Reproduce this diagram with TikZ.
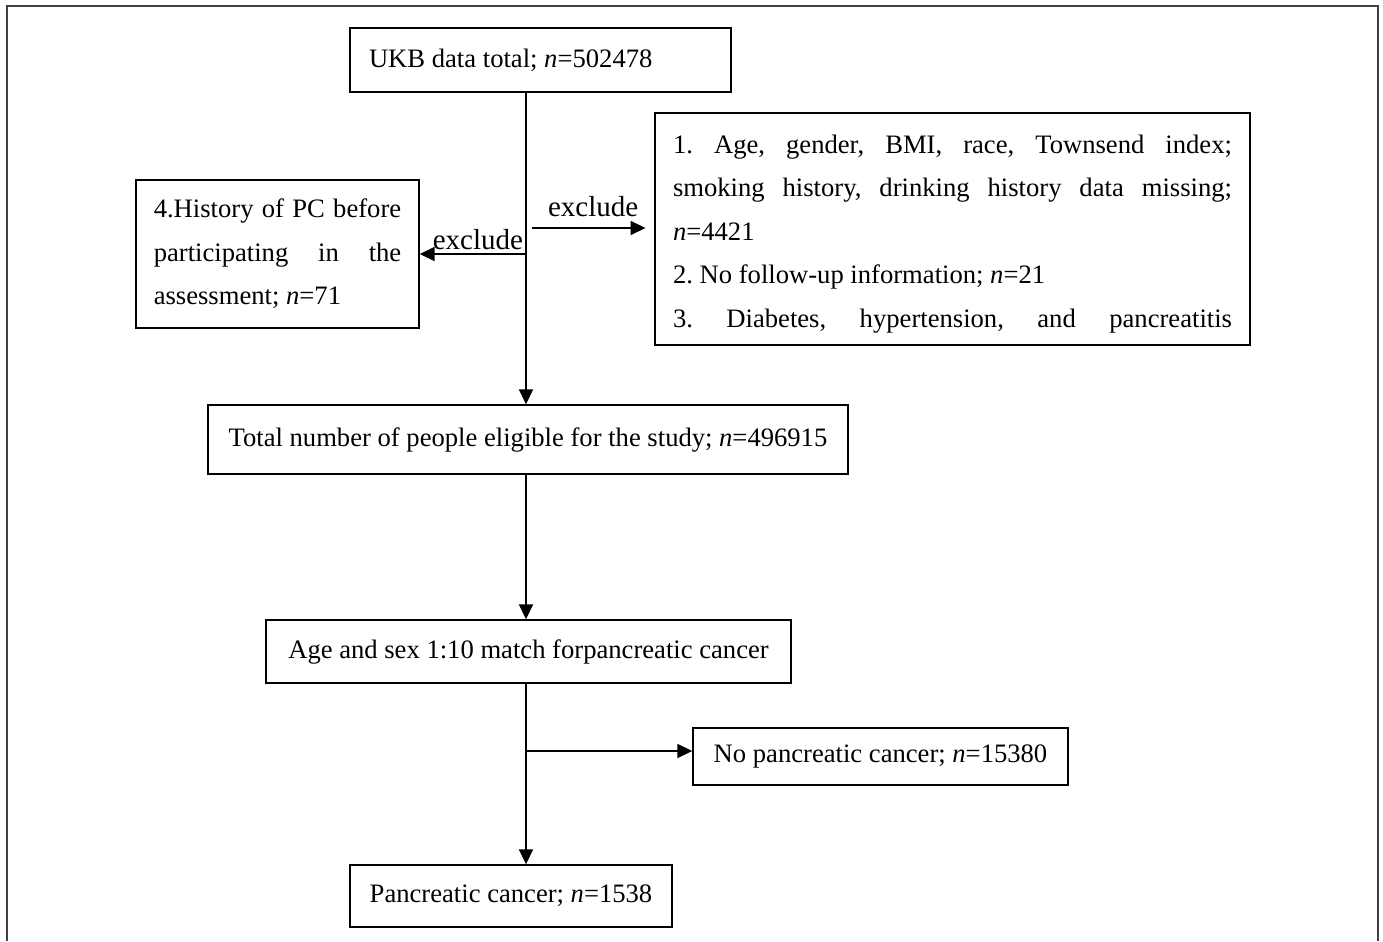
\documentclass[tikz,border=0pt]{standalone}
\usepackage{fontspec}
\setmainfont{Liberation Serif}
\usetikzlibrary{arrows.meta}
\frenchspacing
\newcommand{\fullline}[2]{\leavevmode\hbox to #1{#2}}
\begin{document}
\begin{tikzpicture}[
  flowbox/.style={draw, line width=0.8pt, inner sep=0pt, align=flush left,
    font=\fontsize{15.15}{24.8}\selectfont},
  arr/.style={-{Triangle[length=8.5pt,width=8pt]}, line width=0.8pt},
  lbl/.style={font=\fontsize{16.5}{18}\selectfont, inner sep=1pt}]
 \useasboundingbox (0,0) rectangle (27.66,-18.82);
 \draw[line width=0.9pt, black!75] (0.14,-18.82) |- (27.56,-0.12) -- (27.56,-18.82);
%
 \coordinate (trunk) at (10.52,0);
 \node[flowbox, minimum width=7.62cm, minimum height=1.28cm, text width=6.86cm] (ukb) at (10.81,-1.2)
   {UKB data total; \textit{n}=502478};
 \node[flowbox, minimum width=5.66cm, minimum height=2.96cm, text width=4.95cm] (hist) at (5.55,-5.08)
   {\fullline{4.95cm}{4.History\hfill of\hfill PC\hfill before}\\
    \fullline{4.95cm}{participating\hfill in\hfill the}\\ assessment; \textit{n}=71};
 \node[flowbox, minimum width=11.9cm, minimum height=4.64cm, text width=11.18cm] (miss) at (19.05,-4.58)
   {\fullline{11.18cm}{\rule{0pt}{16pt}1.\hfill Age,\hfill gender,\hfill BMI,\hfill race,\hfill Townsend\hfill index;}\\
    \fullline{11.18cm}{smoking\hfill history,\hfill drinking\hfill history\hfill data\hfill missing;}\\
    \textit{n}=4421\\
    2. No follow-up information; \textit{n}=21\\
    \fullline{11.18cm}{3.\hfill Diabetes,\hfill hypertension,\hfill and\hfill pancreatitis}};
 \node[flowbox, minimum width=12.8cm, minimum height=1.38cm] (total) at (10.56,-8.79)
   {Total number of people eligible for the study; \textit{n}=496915};
 \node[flowbox, minimum width=10.5cm, minimum height=1.26cm] (match) at (10.57,-13.03)
   {Age and sex 1:10 match forpancreatic cancer};
 \node[flowbox, minimum width=7.5cm, minimum height=1.14cm] (nopc) at (17.61,-15.13)
   {No pancreatic cancer; \textit{n}=15380};
 \node[flowbox, minimum width=6.44cm, minimum height=1.24cm] (pc) at (10.22,-17.92)
   {Pancreatic cancer; \textit{n}=1538};
%
 \draw[arr] (ukb.south -| trunk) -- (total.north -| trunk);
 \draw[arr] (trunk |- hist.east) -- (hist.east) node[lbl, midway, above=1pt, xshift=0.1cm]{exclude};
 \coordinate (exr) at (10.64,-4.56);
 \draw[arr, shorten >=5pt] (exr) -- (exr -| miss.west) node[lbl, midway, above=5pt]{exclude};
%
 \draw[arr] (total.south -| trunk) -- (match.north -| trunk);
 \draw[arr] (match.south -| trunk) -- (pc.north -| trunk);
 \coordinate (split) at (10.52,-15.02);
 \draw[arr] (split) -- (split -| nopc.west);
\end{tikzpicture}
\end{document}
